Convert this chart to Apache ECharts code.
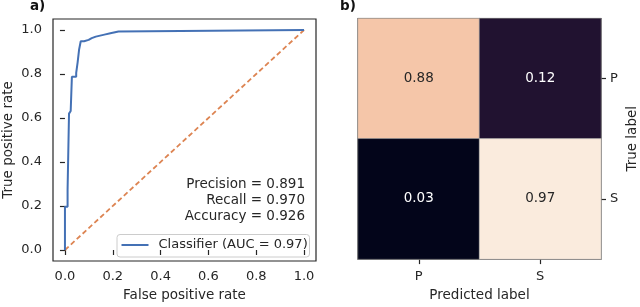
<!DOCTYPE html>
<html>
<head>
<meta charset="utf-8">
<script src="https://cdn.jsdelivr.net/npm/echarts@6/dist/echarts.min.js"></script>
<style>
html,body{margin:0;padding:0;background:#fff;}
#c{width:640px;height:307px;}
</style>
</head>
<body>
<div id="c"></div>
<script>
// ROC curve (step vertices)
var rocFpr = [0, 0, 0.011, 0.011, 0.017, 0.017, 0.024, 0.024, 0.029, 0.029, 0.047, 0.047, 0.053, 0.053, 0.059, 0.059, 0.066, 0.066, 0.080, 0.080, 0.099, 0.099, 0.112, 0.112, 0.129, 0.129, 0.165, 0.165, 0.190, 0.190, 0.224, 0.224, 1.0];
var rocTpr = [0, 0.197, 0.197, 0.275, 0.275, 0.620, 0.620, 0.632, 0.632, 0.787, 0.787, 0.805, 0.805, 0.853, 0.853, 0.910, 0.910, 0.949, 0.949, 0.955, 0.955, 0.963, 0.963, 0.970, 0.970, 0.979, 0.979, 0.985, 0.985, 0.993, 0.993, 1.0, 1.0];
var chanceX = [0, 1];
var chanceY = [0, 1];
var rocTicks = [0, 0.2, 0.4, 0.6, 0.8, 1.0];
var legendLabel = 'Classifier (AUC = 0.97)';
var metricsText = ['Precision = 0.891', 'Recall = 0.970', 'Accuracy = 0.926'];

// Confusion matrix
var predLabels = ['P', 'S'];
var trueLabels = ['P', 'S'];
var cmRowP = [0.88, 0.12];
var cmRowS = [0.03, 0.97];

var rocket = ['#03051a', '#221331', '#451c47', '#701f57', '#a11a5b', '#cb1b4f', '#e83f3f', '#f37651', '#f6a47c', '#f5c4a7', '#faebdd'];

var FONT = 'DejaVu Sans';
var DARK = '#262626';
var BLUE = '#4471b5';

var rocData = rocFpr.map(function (x, i) { return [x, rocTpr[i]]; });
var chanceData = chanceX.map(function (x, i) { return [x, chanceY[i]]; });

var cmRows = [cmRowP, cmRowS];
var heatData = [];
cmRows.forEach(function (row, r) {
  row.forEach(function (v, c) {
    heatData.push({
      value: [c, trueLabels.length - 1 - r, v],
      label: { color: v > 0.5 ? DARK : '#ffffff' }
    });
  });
});
var allVals = cmRowP.concat(cmRowS);

var graphics = [
  { type: 'text', left: 30, top: -1, style: { text: 'a)', font: 'bold 13.5px "DejaVu Sans"', fill: '#111' } },
  { type: 'text', left: 340, top: -1, style: { text: 'b)', font: 'bold 13.5px "DejaVu Sans"', fill: '#111' } },
  {
    type: 'group', left: 116.5, top: 234,
    children: [
      { type: 'rect', shape: { x: 0, y: 0, width: 192.5, height: 22.5, r: 3 }, style: { fill: '#ffffff', stroke: '#cccccc', lineWidth: 1 } },
      { type: 'line', shape: { x1: 4.5, y1: 10.5, x2: 31.5, y2: 10.5 }, style: { stroke: BLUE, lineWidth: 2 } },
      { type: 'text', x: 41.5, y: 10.5, style: { text: legendLabel, font: '13px "DejaVu Sans"', fill: DARK, verticalAlign: 'middle', align: 'left' } }
    ]
  }
];
metricsText.forEach(function (t, i) {
  graphics.push({
    type: 'text', x: 305, y: 184.6 + i * 15.7,
    style: { text: t, font: '13.5px "DejaVu Sans"', fill: DARK, align: 'right', verticalAlign: 'middle' }
  });
});

var chart = echarts.init(document.getElementById('c'), null, { renderer: 'canvas' });
chart.setOption({
  animation: false,
  backgroundColor: '#ffffff',
  textStyle: { fontFamily: FONT },
  grid: [
    { left: 52, top: 19, width: 264, height: 244, show: true, borderColor: DARK, borderWidth: 1.2, backgroundColor: 'transparent' },
    { left: 358, top: 18.5, width: 246, height: 245, show: true, borderColor: DARK, borderWidth: 1.2, backgroundColor: 'transparent' }
  ],
  xAxis: [
    {
      gridIndex: 0, type: 'value', min: -0.05, max: 1.05,
      name: 'False positive rate', nameLocation: 'middle', nameGap: 27,
      nameTextStyle: { fontSize: 13.5, color: DARK, fontFamily: FONT },
      axisLine: { show: false },
      splitLine: { show: false },
      axisTick: { show: true, length: 5, lineStyle: { color: DARK, width: 1.2 }, customValues: rocTicks },
      axisLabel: { fontSize: 13, color: DARK, margin: 9, customValues: rocTicks, formatter: function (v) { return v.toFixed(1); } }
    },
    {
      gridIndex: 1, type: 'category', data: predLabels,
      name: 'Predicted label', nameLocation: 'middle', nameGap: 27.5,
      nameTextStyle: { fontSize: 13.5, color: DARK, fontFamily: FONT },
      axisLine: { show: false },
      splitLine: { show: false },
      axisTick: { show: true, alignWithLabel: true, length: 5, lineStyle: { color: DARK, width: 1.2 } },
      axisLabel: { fontSize: 13, color: DARK, margin: 11 }
    }
  ],
  yAxis: [
    {
      gridIndex: 0, type: 'value', min: -0.05, max: 1.05,
      name: 'True positive rate', nameLocation: 'middle', nameGap: 38,
      nameTextStyle: { fontSize: 13.5, color: DARK, fontFamily: FONT },
      axisLine: { show: false },
      splitLine: { show: false },
      axisTick: { show: true, length: 5, lineStyle: { color: DARK, width: 1.2 }, customValues: rocTicks },
      axisLabel: { fontSize: 13, color: DARK, margin: 11, customValues: rocTicks, formatter: function (v) { return v.toFixed(1); } }
    },
    {
      gridIndex: 1, type: 'category', data: trueLabels.slice().reverse(), position: 'right',
      name: 'True label', nameLocation: 'middle', nameGap: 24, nameRotate: 90,
      nameTextStyle: { fontSize: 13.5, color: DARK, fontFamily: FONT },
      axisLine: { show: false },
      splitLine: { show: false },
      axisTick: { show: true, alignWithLabel: true, length: 5, lineStyle: { color: DARK, width: 1.2 } },
      axisLabel: { fontSize: 13, color: DARK, margin: 9 }
    }
  ],
  visualMap: {
    show: false, type: 'continuous', seriesIndex: 2,
    min: Math.min.apply(null, allVals), max: Math.max.apply(null, allVals),
    inRange: { color: rocket }
  },
  graphic: graphics,
  series: [
    {
      name: 'chance', type: 'line', xAxisIndex: 0, yAxisIndex: 0,
      data: chanceData, symbol: 'none', silent: true,
      lineStyle: { color: '#dd8452', width: 1.8, type: [5, 3] }
    },
    {
      name: legendLabel, type: 'line', xAxisIndex: 0, yAxisIndex: 0,
      data: rocData, symbol: 'none', color: BLUE,
      lineStyle: { color: BLUE, width: 2 }
    },
    {
      name: 'cm', type: 'heatmap', xAxisIndex: 1, yAxisIndex: 1,
      data: heatData,
      itemStyle: { borderColor: '#a0a0a0', borderWidth: 0.6 },
      label: { show: true, fontSize: 13.5, fontFamily: FONT, formatter: function (p) { return p.value[2].toFixed(2); } }
    }
  ]
});
</script>
</body>
</html>
